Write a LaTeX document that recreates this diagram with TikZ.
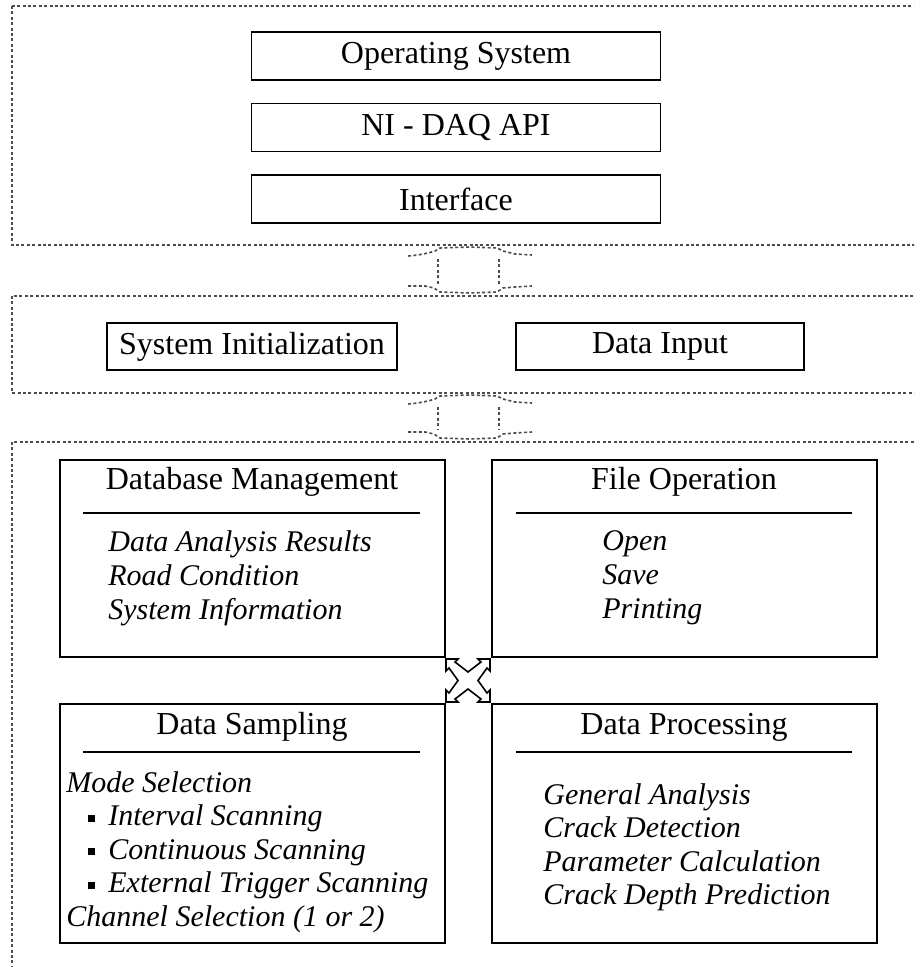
\documentclass[tikz,border=0pt]{standalone}
\usepackage{fontspec}
\setmainfont{Liberation Serif}
\usetikzlibrary{calc}
% pipe between two layers: #1 = lower edge of upper layer, #2 = upper edge of lower layer
\def\pipe#1#2{%
  \draw[layer] (408,#1+11) -- (418,#1+10) -- (428,#1+8) -- (435,#1+6) -- (440,#1+3) -- (470,#1+2) -- (497,#1+3) -- (503,#1+6) -- (515,#1+9) -- (532,#1+10);
  \draw[layer] (438,#1+14) -- (438,#2-12);
  \draw[layer] (499,#1+14) -- (499,#2-12);
  \draw[layer] (408,#2-10) -- (425,#2-10) -- (434,#2-8) -- (440,#2-4) -- (470,#2-3) -- (497,#2-4) -- (503,#2-8) -- (515,#2-9) -- (532,#2-10);}

\tikzset{
  layer/.style={draw=black!70, line width=0.8pt, dash pattern=on 1.5pt off 1.2pt},
  blk/.style={draw, line width=0.9pt, inner sep=0pt, font=\fontsize{16}{18}\selectfont},
  head/.style={inner sep=0pt, font=\fontsize{16}{18}\selectfont},
  items/.style={inner sep=0pt, anchor=north west, align=left, font=\fontsize{15}{17}\selectfont\itshape},
  bar/.style={line width=0.8pt}
}
\newcommand\sq{\hspace*{11pt}\rule[2pt]{3.5pt}{3.5pt}\hspace{6.5pt}}

\begin{document}
\begin{tikzpicture}[x=0.5pt, y=-0.5pt]
		\useasboundingbox (0,0) rectangle (914,967);
		\clip (0,0) rectangle (914,967);
		
		%%%%% layers %%%%%
		\draw[layer] (12,6) rectangle (930,245);
		\draw[layer] (12,296) rectangle (930,393);
		\draw[layer] (12,442) rectangle (930,990);
		\pipe{245}{296}
		\pipe{393}{442}
		
		%%%%% top layer %%%%%
		\node[blk, minimum width=204.5pt, minimum height=24pt] (os) at (456,56) {Operating System};
		\node[blk, minimum width=204.5pt, minimum height=24pt] (daq) at (456,127.5) {NI - DAQ API};
		\node[blk, minimum width=204.5pt, minimum height=24pt] (intf) at (456,199) {Interface};
		
		%%%%% middle layer %%%%%
		\node[blk, minimum width=145pt, minimum height=23.5pt] (init) at (252,346.5) {System Initialization};
		\node[blk, minimum width=144pt, minimum height=23.5pt] (input) at (660,346.5) {Data Input};
		
		%%%%% bottom layer %%%%%
		\node[blk, minimum width=192.5pt, minimum height=98.5pt] (db) at (252.5,558.5) {};
		\node[blk, minimum width=192.5pt, minimum height=98.5pt] (file) at (684.5,558.5) {};
		\node[blk, minimum width=192.5pt, minimum height=119.5pt] (samp) at (252.5,823.5) {};
		\node[blk, minimum width=192.5pt, minimum height=119.5pt] (proc) at (684.5,823.5) {};
		
		\node[head] (dbh) at (252,482) {Database Management};
		\node[head] (fileh) at (684,482) {File Operation};
		\node[head] (samph) at (252,727) {Data Sampling};
		\node[head] (proch) at (684,727) {Data Processing};
		
		\draw[bar] (83,513) -- (420,513);
		\draw[bar] (516,513) -- (852,513);
		\draw[bar] (83,752) -- (420,752);
		\draw[bar] (516,752) -- (852,752);
		
		\node[items] (dbi) at (108,530) {Data Analysis Results\\Road Condition\\System Information};
		\node[items] (filei) at (602,530) {Open\\Save\\Printing};
		\node[items, font=\fontsize{15}{16.75}\selectfont\itshape] (sampi) at (66,771) {Mode Selection\\\sq Interval Scanning\\\sq Continuous Scanning\\\sq External Trigger Scanning\\Channel Selection (1 or 2)};
		\node[items, font=\fontsize{15}{16.75}\selectfont\itshape] (proci) at (543,783) {General Analysis\\Crack Detection\\Parameter Calculation\\Crack Depth Prediction};
		
		%%%%% cross between the four boxes %%%%%
		\draw[line width=0.8pt] (446,659) -- (458,659) -- (455,662) -- (468,672) -- (481,662) -- (478,659) -- (490,659) -- (490,671) -- (487,668) -- (478,680.5) -- (487,693) -- (490,690) -- (490,702) -- (478,702) -- (481,699) -- (468,689) -- (455,699) -- (458,702) -- (446,702) -- (446,690) -- (449,693) -- (458,680.5) -- (449,668) -- (446,671) -- cycle;
		
	\end{tikzpicture}
\end{document}
